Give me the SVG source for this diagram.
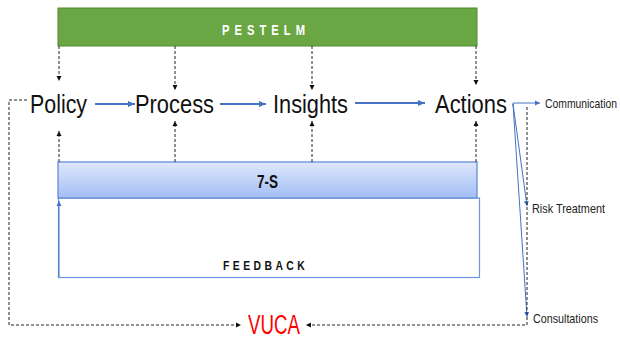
<svg xmlns="http://www.w3.org/2000/svg" width="620" height="337" viewBox="0 0 620 337">
<defs>
<linearGradient id="gBlue" x1="0" y1="0" x2="0" y2="1">
<stop offset="0" stop-color="#dfe8fc"/>
<stop offset="1" stop-color="#a3bdf4"/>
</linearGradient>
<marker id="ab" markerWidth="8" markerHeight="8" refX="7" refY="4" orient="auto" markerUnits="userSpaceOnUse">
<path d="M0,1 L7,4 L0,7 Z" fill="#4472c4"/>
</marker>
<marker id="ak" markerWidth="6" markerHeight="6" refX="5" refY="3" orient="auto" markerUnits="userSpaceOnUse">
<path d="M0,0.5 L5,3 L0,5.5 Z" fill="#111"/>
</marker>
<marker id="abs" markerWidth="6" markerHeight="6" refX="5" refY="3" orient="auto" markerUnits="userSpaceOnUse">
<path d="M0,0.5 L5,3 L0,5.5 Z" fill="#4472c4"/>
</marker>
</defs>
<style>
.main{font-family:"Liberation Sans",Arial,sans-serif;font-size:25px;fill:#111}
.small{font-family:"Liberation Sans",Arial,sans-serif;font-size:13px;fill:#222}
.bar{font-family:"Liberation Sans",Arial,sans-serif;font-weight:bold}
.dash{fill:none;stroke:#222;stroke-width:1;stroke-dasharray:3,2}
.blue{fill:none;stroke:#4472c4;stroke-width:2}
.blue1{fill:none;stroke:#4472c4;stroke-width:1}
</style>
<g id="pestelm">
<rect x="58" y="8" width="419" height="38" fill="#6aa744" stroke="#4f8a2e" stroke-width="1"/>
<text transform="translate(222,35) scale(0.8,1)" class="bar" font-size="14" fill="#fff" letter-spacing="6.3">PESTELM</text>
</g>
<g id="feedback">
<rect x="58.5" y="198" width="421" height="79.5" fill="#fff" stroke="#6f95da" stroke-width="1.2"/>
<text transform="translate(223,270) scale(0.8,1)" class="bar" font-size="13" fill="#111" letter-spacing="4.3">FEEDBACK</text>
</g>
<g id="seven-s">
<rect x="58" y="162" width="419" height="36" fill="url(#gBlue)" stroke="#5b85d6" stroke-width="1.2"/>
<text x="257" y="188" class="bar" font-size="18" fill="#111" textLength="21" lengthAdjust="spacingAndGlyphs">7-S</text>
</g>
<g id="policy"><text x="30" y="113" class="main" textLength="57" lengthAdjust="spacingAndGlyphs">Policy</text></g>
<g id="process"><text x="135" y="113" class="main" textLength="79" lengthAdjust="spacingAndGlyphs">Process</text></g>
<g id="insights"><text x="273" y="113" class="main" textLength="75" lengthAdjust="spacingAndGlyphs">Insights</text></g>
<g id="actions"><text x="435" y="113" class="main" textLength="72" lengthAdjust="spacingAndGlyphs">Actions</text></g>
<g id="communication"><text x="545" y="108" class="small" textLength="72" lengthAdjust="spacingAndGlyphs">Communication</text></g>
<g id="risk-treatment"><text x="532" y="213" class="small" textLength="73" lengthAdjust="spacingAndGlyphs">Risk Treatment</text></g>
<g id="consultations"><text x="533" y="323" class="small" textLength="65" lengthAdjust="spacingAndGlyphs">Consultations</text></g>
<g id="vuca"><text x="248" y="334" font-family="'Liberation Sans',Arial,sans-serif" font-size="27" fill="#ff0000" textLength="52" lengthAdjust="spacingAndGlyphs">VUCA</text></g>
<g id="connectors">
<path class="dash" d="M59,46 V81" marker-end="url(#ak)"/>
<path class="dash" d="M175,46 V90" marker-end="url(#ak)"/>
<path class="dash" d="M312,46 V90" marker-end="url(#ak)"/>
<path class="dash" d="M476,46 V85" marker-end="url(#ak)"/>
<path class="dash" d="M59,162 V131" marker-end="url(#ak)"/>
<path class="dash" d="M175,162 V121" marker-end="url(#ak)"/>
<path class="dash" d="M312,162 V121" marker-end="url(#ak)"/>
<path class="dash" d="M476,162 V121" marker-end="url(#ak)"/>
<path class="blue" d="M95,104 H135" marker-end="url(#ab)"/>
<path class="blue" d="M220,104 H266" marker-end="url(#ab)"/>
<path class="blue" d="M355,103 H425" marker-end="url(#ab)"/>
<path class="blue1" d="M59,277 V201" marker-end="url(#abs)"/>
<path class="blue1" d="M513,106 V103 H540" marker-end="url(#abs)"/>
<path class="blue1" d="M513,104 L527,206" marker-end="url(#abs)"/>
<path class="blue1" d="M513,104 L527,317" marker-end="url(#abs)"/>
<path class="dash" d="M27,100 H9 V325 H241" marker-end="url(#ak)"/>
<path class="dash" d="M527,107 V325 H306" marker-end="url(#ak)"/>
</g>
</svg>
